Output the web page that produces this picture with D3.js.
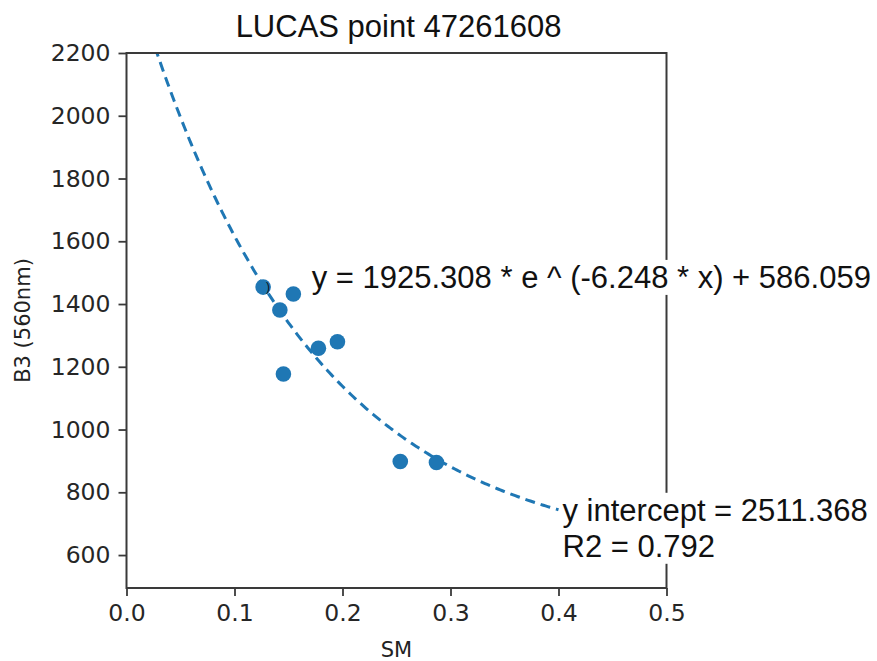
<!DOCTYPE html>
<html><head><meta charset="utf-8">
<script src="https://cdn.jsdelivr.net/npm/d3@7"></script>
<style>
body{margin:0;background:#fff;}
svg{display:block;}
.tick text{font-family:"DejaVu Sans",sans-serif;}
</style></head>
<body>
<svg id="c" width="877" height="661"></svg>
<script>
const smValues = [0.1265, 0.1545, 0.142, 0.1777, 0.1953, 0.1453, 0.2535, 0.287];
const b3Values = [1454, 1432, 1381, 1259, 1280, 1177, 898, 895];
const xTicks = [0.0, 0.1, 0.2, 0.3, 0.4, 0.5];
const yTicks = [600, 800, 1000, 1200, 1400, 1600, 1800, 2000, 2200];
const fitA = 1925.308, fitB = -6.248, fitC = 586.059;
const fitRange = [0, 0.4];
const titleText = "LUCAS point 47261608";
const eqText = "y = 1925.308 * e ^ (-6.248 * x) + 586.059";
const interceptText = "y intercept = 2511.368";
const r2Text = "R2 = 0.792";

const svg = d3.select("#c");
const m = {l:126.5, t:53, r:877-666.5, b:661-588};
const W = 877 - m.l - m.r, H = 661 - m.t - m.b;
const x = d3.scaleLinear().domain([0, 0.5]).range([0, W]);
const y = d3.scaleLinear().domain([495, 2200]).range([H, 0]);
const g = svg.append("g").attr("transform", `translate(${m.l},${m.t})`);
const blue = "#1f77b4", spine = "#3a3a3a";

g.append("clipPath").attr("id","clip").append("rect").attr("width",W).attr("height",H);

// fit curve samples
const fitX = d3.range(0, 201).map(i => fitRange[0] + (fitRange[1]-fitRange[0]) * i / 200);
g.append("path").attr("clip-path","url(#clip)")
 .datum(fitX)
 .attr("d", d3.line().x(d => x(d)).y(d => y(fitA*Math.exp(fitB*d)+fitC)))
 .attr("fill","none").attr("stroke",blue).attr("stroke-width",3)
 .attr("stroke-dasharray","10,6");

// points
g.selectAll("circle.pt").data(smValues).join("circle")
 .attr("class","pt")
 .attr("cx", d => x(d)).attr("cy", (d,i) => y(b3Values[i]))
 .attr("r", 7.8).attr("fill", blue);

// axes
const xa = g.append("g").attr("transform",`translate(0,${H})`)
 .call(d3.axisBottom(x).tickValues(xTicks).tickFormat(d3.format(".1f")).tickSizeOuter(0).tickSize(8).tickPadding(8));
const ya = g.append("g")
 .call(d3.axisLeft(y).tickValues(yTicks).tickSizeOuter(0).tickSize(8).tickPadding(8).tickFormat(d3.format("d")));
[xa, ya].forEach(a => {
  a.selectAll("path.domain").remove();
  a.selectAll(".tick line").attr("stroke", spine).attr("stroke-width", 1.8);
  a.selectAll(".tick text").attr("font-size", 23.5).attr("fill", "#262626");
});
// spines
g.append("rect").attr("width",W).attr("height",H).attr("fill","none")
 .attr("stroke",spine).attr("stroke-width",2);

// annotations with white background
function boxedText(tx, ty, lines, size, lh){
  const grp = g.append("g");
  const bg = grp.append("rect").attr("fill","#fff");
  const t = grp.append("text").attr("font-family","'Liberation Sans',Arial,sans-serif")
    .attr("font-size",size).attr("fill","#111");
  lines.forEach((s,i) => t.append("tspan").attr("x",tx).attr("y",ty + i*lh).text(s));
  const bb = t.node().getBBox();
  bg.attr("x",bb.x).attr("y",bb.y).attr("width",bb.width).attr("height",bb.height);
}
boxedText(x(0.1715), y(1445)-2, [eqText], 31, 36);
boxedText(x(fitRange[1])+4, y(fitA*Math.exp(fitB*fitRange[1])+fitC)+11, [interceptText, r2Text], 31, 36);

// small black mark next to first point
g.append("text").attr("x", x(smValues[0])+3).attr("y", y(b3Values[0])+4)
 .attr("font-family","'Liberation Sans',Arial,sans-serif").attr("font-size",12).attr("fill","#111").text(")");

// title & labels
svg.append("text").attr("x", m.l + W/2 + 2).attr("y", 37).attr("text-anchor","middle")
 .attr("font-family","'Liberation Sans',Arial,sans-serif").attr("font-size",31).attr("fill","#111").text(titleText);
svg.append("text").attr("x", m.l + W/2).attr("y", 657).attr("text-anchor","middle")
 .attr("font-family","'DejaVu Sans',sans-serif").attr("font-size",21).attr("fill","#222").text("SM");
svg.append("text").attr("transform", `translate(30,${m.t + H/2}) rotate(-90)`).attr("text-anchor","middle")
 .attr("font-family","'DejaVu Sans',sans-serif").attr("font-size",21).attr("fill","#222").text("B3 (560nm)");
</script>
</body></html>
